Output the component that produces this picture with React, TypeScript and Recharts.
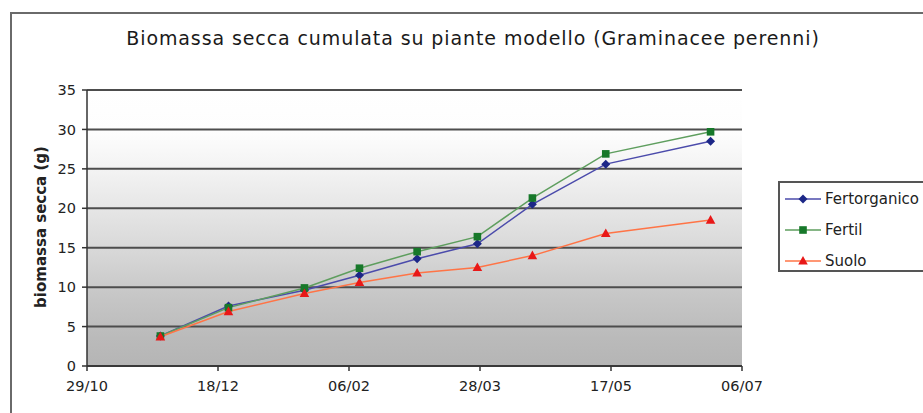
import React from 'react';
import { LineChart, Line, XAxis, YAxis, CartesianGrid } from 'recharts';

// days since 29/10
const days = [28, 54, 83, 104, 126, 149, 170, 198, 238];
const fertorganico = [3.8, 7.6, 9.6, 11.5, 13.6, 15.5, 20.5, 25.6, 28.5];
const fertil = [3.8, 7.4, 9.9, 12.4, 14.5, 16.4, 21.3, 26.9, 29.7];
const suolo = [3.7, 6.9, 9.2, 10.6, 11.8, 12.5, 14.0, 16.8, 18.5];

const xTicks = [0, 50, 100, 150, 200, 250];
const xTickLabels = ['29/10', '18/12', '06/02', '28/03', '17/05', '06/07'];
const yTicks = [0, 5, 10, 15, 20, 25, 30, 35];

const seriesNames = ['Fertorganico', 'Fertil', 'Suolo'];

const data = days.map((d, i) => ({
  day: d,
  Fertorganico: fertorganico[i],
  Fertil: fertil[i],
  Suolo: suolo[i],
}));

const COLORS = {
  Fertorganico: { line: '#4b4bab', mark: '#1c2787' },
  Fertil: { line: '#5e9e5e', mark: '#17782a' },
  Suolo: { line: '#ff7446', mark: '#e81818' },
} as Record<string, { line: string; mark: string }>;

const FONT = '"DejaVu Sans", Verdana, sans-serif';

const Diamond = ({ cx, cy, fill }: any) => (
  <polygon points={`${cx},${cy - 4.5} ${cx + 4.5},${cy} ${cx},${cy + 4.5} ${cx - 4.5},${cy}`} fill={fill} />
);
const Square = ({ cx, cy, fill }: any) => (
  <rect x={cx - 3.8} y={cy - 3.8} width={7.6} height={7.6} fill={fill} />
);
const Triangle = ({ cx, cy, fill }: any) => (
  <polygon points={`${cx},${cy - 5} ${cx + 4.8},${cy + 3.6} ${cx - 4.8},${cy + 3.6}`} fill={fill} />
);

const markers: Record<string, any> = { Fertorganico: Diamond, Fertil: Square, Suolo: Triangle };

const renderDot = (name: string) => (props: any) => {
  const M = markers[name];
  if (props.cx == null || props.cy == null) return <g key={props.key} />;
  return <M key={props.key} cx={props.cx} cy={props.cy} fill={COLORS[name].mark} />;
};

const LegendBox = () => (
  <div
    style={{
      position: 'absolute',
      left: 778,
      top: 181,
      border: '2px solid #555',
      width: 170,
      height: 91,
      boxSizing: 'border-box',
      padding: '0 0 0 5px',
      fontFamily: FONT,
      fontSize: 15,
      color: '#222',
      background: '#fff',
    }}
  >
    {seriesNames.map((n) => {
      const M = markers[n];
      return (
        <div key={n} style={{ display: 'flex', alignItems: 'center', height: 31 }}>
          <svg width={38} height={14} style={{ marginRight: 2 }}>
            <line x1={0} y1={7} x2={36} y2={7} stroke={COLORS[n].line} strokeWidth={1.5} />
            <M cx={18} cy={7} fill={COLORS[n].mark} />
          </svg>
          <span>{n}</span>
        </div>
      );
    })}
  </div>
);

export default function App() {
  return (
    <div style={{ position: 'absolute', left: 0, top: 0, width: 923, height: 413, overflow: 'hidden', background: '#fff' }}>
      <div
        style={{
          position: 'absolute',
          left: 10,
          top: 12,
          width: 1000,
          height: 500,
          border: '2px solid #6a6a6a',
          boxSizing: 'border-box',
        }}
      />
      <LineChart
        width={923}
        height={413}
        data={data}
        margin={{ top: 90, right: 181, bottom: 0, left: 0 }}
        style={{ position: 'absolute', left: 0, top: 0 }}
      >
        <defs>
          <linearGradient id="bgGrad" x1="0" y1="0" x2="0" y2="1">
            <stop offset="0" stopColor="#ffffff" />
            <stop offset="0.15" stopColor="#fdfdfd" />
            <stop offset="0.3" stopColor="#f2f2f2" />
            <stop offset="0.45" stopColor="#e4e4e4" />
            <stop offset="0.6" stopColor="#d6d6d6" />
            <stop offset="0.75" stopColor="#c6c6c6" />
            <stop offset="0.9" stopColor="#bababa" />
            <stop offset="1" stopColor="#b5b5b5" />
          </linearGradient>
        </defs>
        <CartesianGrid
          vertical={false}
          fill="url(#bgGrad)"
          fillOpacity={1}
          stroke="#4d4d4d"
          strokeWidth={2}
          horizontalValues={yTicks}
        />
        <XAxis
          dataKey="day"
          type="number"
          domain={[0, 250]}
          ticks={xTicks}
          tickFormatter={(v: number) => xTickLabels[xTicks.indexOf(v)] ?? ''}
          height={47}
          tickSize={5}
          tickMargin={10}
          stroke="#333"
          strokeWidth={1.5}
          tick={{ fill: '#222', fontSize: 14.5, fontFamily: FONT }}
          interval={0}
        />
        <YAxis
          type="number"
          domain={[0, 35]}
          ticks={yTicks}
          width={87}
          tickSize={5}
          tickMargin={6}
          stroke="#333"
          strokeWidth={1.5}
          tick={{ fill: '#222', fontSize: 14.5, fontFamily: FONT }}
          interval={0}
        />
        {seriesNames.map((n) => (
          <Line
            key={n}
            dataKey={n}
            type="linear"
            stroke={COLORS[n].line}
            strokeWidth={1.5}
            dot={renderDot(n)}
            activeDot={false}
            isAnimationActive={false}
          />
        ))}
      </LineChart>
      <LegendBox />
      <svg width={923} height={413} style={{ position: 'absolute', left: 0, top: 0, pointerEvents: 'none' }}>
        <text x={473} y={45} textAnchor="middle" fontFamily={FONT} fontSize={19} letterSpacing={0.9} fill="#1a1a1a">
          Biomassa secca cumulata su piante modello (Graminacee perenni)
        </text>
        <text
          x={0}
          y={0}
          transform="translate(46,227) rotate(-90)"
          textAnchor="middle"
          fontFamily={FONT}
          fontSize={15}
          fontWeight="bold"
          fill="#222"
        >
          biomassa secca (g)
        </text>
      </svg>
    </div>
  );
}
